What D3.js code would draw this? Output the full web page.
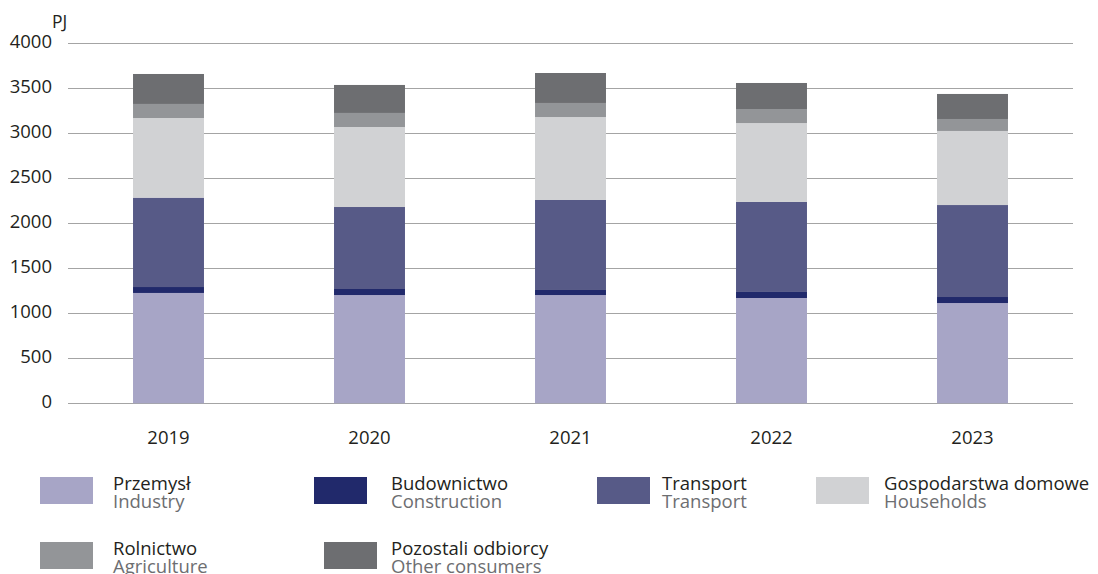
<!DOCTYPE html>
<html>
<head>
<meta charset="utf-8">
<script src="https://cdn.jsdelivr.net/npm/d3@7"></script>
<style>
  html, body { margin: 0; padding: 0; background: #fff; }
  svg { display: block; font-family: "Open Sans", "Noto Sans", sans-serif; }
</style>
</head>
<body>
<svg id="chart" width="1098" height="574"></svg>
<script>
// Final energy consumption by sector, PJ
const years = ["2019", "2020", "2021", "2022", "2023"];
const industry     = [1226, 1203, 1203, 1170, 1114];
const construction = [66, 67, 56, 67, 67];
const transport    = [993, 911, 1000, 1000, 1022];
const households   = [885, 889, 922, 877, 823];
const agriculture  = [156, 156, 156, 156, 133];
const other        = [333, 311, 333, 289, 278];

const yTicks = [0, 500, 1000, 1500, 2000, 2500, 3000, 3500, 4000];
const unitLabel = "PJ";

const seriesKeys = ["industry", "construction", "transport", "households", "agriculture", "other"];
const seriesNamesPL = ["Przemysł", "Budownictwo", "Transport", "Gospodarstwa domowe", "Rolnictwo", "Pozostali odbiorcy"];
const seriesNamesEN = ["Industry", "Construction", "Transport", "Households", "Agriculture", "Other consumers"];
const seriesColors = ["#a7a5c6", "#21296b", "#575a87", "#d1d2d4", "#939598", "#6d6e71"];

const rows = years.map((yr, i) => ({
  year: yr,
  industry: industry[i],
  construction: construction[i],
  transport: transport[i],
  households: households[i],
  agriculture: agriculture[i],
  other: other[i]
}));

const svg = d3.select("#chart");
const plotLeft = 68, plotRight = 1073, plotTop = 43.3, plotBottom = 403.3;

const x = d3.scaleBand()
  .domain(years)
  .range([plotLeft, plotRight])
  .paddingInner(0.647)
  .paddingOuter(0.3235);

const y = d3.scaleLinear()
  .domain([0, 4000])
  .range([plotBottom, plotTop]);

const color = d3.scaleOrdinal().domain(seriesKeys).range(seriesColors);

// gridlines
svg.append("g")
  .selectAll("line")
  .data(yTicks)
  .join("line")
  .attr("x1", plotLeft)
  .attr("x2", plotRight)
  .attr("y1", d => Math.round(y(d)) + 0.5)
  .attr("y2", d => Math.round(y(d)) + 0.5)
  .attr("stroke", "#a4a4a4")
  .attr("stroke-width", 1);

// y tick labels
svg.append("g")
  .selectAll("text")
  .data(yTicks)
  .join("text")
  .attr("x", 52)
  .attr("y", d => y(d) + 5)
  .attr("text-anchor", "end")
  .attr("font-size", 18.5)
  .attr("fill", "#231f20")
  .text(d => d);

svg.append("text")
  .attr("x", 52)
  .attr("y", 27.5)
  .attr("font-size", 17.5)
  .attr("fill", "#231f20")
  .text(unitLabel);

// stacked bars
const stacked = d3.stack().keys(seriesKeys)(rows);
svg.append("g")
  .selectAll("g")
  .data(stacked)
  .join("g")
  .attr("fill", d => color(d.key))
  .selectAll("rect")
  .data(d => d)
  .join("rect")
  .attr("x", d => x(d.data.year))
  .attr("width", x.bandwidth())
  .attr("y", d => y(d[1]))
  .attr("height", d => y(d[0]) - y(d[1]));

// x labels
svg.append("g")
  .selectAll("text")
  .data(years)
  .join("text")
  .attr("x", d => x(d) + x.bandwidth() / 2)
  .attr("y", 443.5)
  .attr("text-anchor", "middle")
  .attr("font-size", 18.5)
  .attr("fill", "#231f20")
  .text(d => d);

// legend
const legendPos = [
  { sx: 40, tx: 113, ty: 477 },
  { sx: 314, tx: 391, ty: 477 },
  { sx: 597, tx: 662, ty: 477 },
  { sx: 816, tx: 884, ty: 477 },
  { sx: 40, tx: 113, ty: 542 },
  { sx: 324, tx: 391, ty: 542 }
];
const legend = svg.append("g")
  .selectAll("g")
  .data(seriesKeys)
  .join("g")
  .attr("transform", (d, i) => `translate(0,${legendPos[i].ty})`);

legend.append("rect")
  .attr("x", (d, i) => legendPos[i].sx)
  .attr("y", 0)
  .attr("width", 53)
  .attr("height", 27)
  .attr("fill", d => color(d));

legend.append("text")
  .attr("x", (d, i) => legendPos[i].tx)
  .attr("y", 13)
  .attr("font-size", 18.5)
  .attr("fill", "#231f20")
  .text((d, i) => seriesNamesPL[i]);

legend.append("text")
  .attr("x", (d, i) => legendPos[i].tx)
  .attr("y", 31)
  .attr("font-size", 18.5)
  .attr("fill", "#6d6e71")
  .text((d, i) => seriesNamesEN[i]);
</script>
</body>
</html>
